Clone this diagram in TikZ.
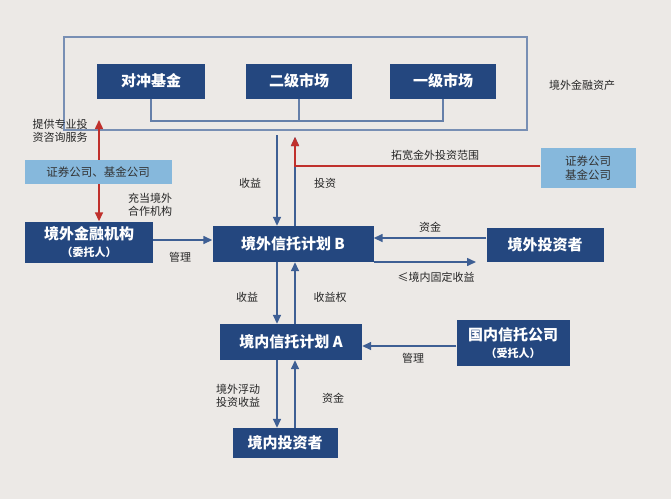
\documentclass[tikz,border=0pt]{standalone}
\usepackage{fontspec}
\newfontfamily\cjk{Noto Sans CJK SC}
\usetikzlibrary{arrows.meta}
\definecolor{bg}{HTML}{ECE9E6}
\definecolor{dk}{HTML}{24477F}
\definecolor{lt}{HTML}{86B8DC}
\definecolor{ln}{HTML}{3E5F94}
\definecolor{rd}{HTML}{C0302C}
\begin{document}
\begin{tikzpicture}[x=1pt,y=-1pt,font=\cjk,
 dbox/.style={fill=dk,text=white,font=\cjk\bfseries\fontsize{15}{17}\selectfont,align=center,inner sep=0pt},
 lbox/.style={fill=lt,text=black!80,font=\cjk\fontsize{11.5}{13.5}\selectfont,align=center,inner sep=0pt},
 lab/.style={font=\cjk\fontsize{11}{13}\selectfont,align=center,text=black!85},
 arr/.style={ln,line width=1.5pt,-{Triangle[length=9pt,width=8pt]}},
 rarr/.style={rd,line width=1.5pt,-{Triangle[length=9pt,width=8pt]}}]
\fill[bg] (0,0) rectangle (671,499);
\useasboundingbox (0,0) rectangle (671,499);
\draw[ln!70,line width=1.2pt] (64,37) rectangle (527,130);
\node[dbox,minimum width=108pt,minimum height=35pt] (hf) at (151,81) {对冲基金};
\node[dbox,minimum width=106pt,minimum height=35pt] (m2) at (299,81) {二级市场};
\node[dbox,minimum width=106pt,minimum height=35pt] (m1) at (443,81) {一级市场};
\draw[ln!80,line width=1.2pt] (hf.south) |- (299,121) -| (m1.south);
\draw[ln!80,line width=1.2pt] (m2.south) -- (299,121);
\node[lab] (ja) at (582,85) {境外金融资产};
\node[lbox,minimum width=147pt,minimum height=24pt] (zq) at (98,172) {证券公司、基金公司};
\coordinate (up1) at (99,120);
\draw[rarr] (zq.north -| up1) -- (up1);
\node[lab,align=left] (tg) at (60,131) {提供专业投\\资咨询服务};
\node[dbox,minimum width=128pt,minimum height=41pt] (jw) at (89,242) {境外金融机构\\{\fontsize{11}{13}\selectfont（委托人）}};
\draw[rarr] (zq.south -| up1) -- (jw.north -| up1);
\node[lab] (cd) at (150,205) {充当境外\\合作机构};
\node[dbox,minimum width=161pt,minimum height=36pt] (B) at (293,244) {境外信托计划 B};
\draw[arr] (jw.east |- 0,240) -- (B.west |- 0,240);
\node[lab] (gl1) at (180,257) {管理};
\coordinate (t1) at (277,135);
\coordinate (t2) at (295,137);
\draw[arr] (t1) -- (B.north -| t1);
\draw[arr] (B.north -| t2) -- (t2);
\node[lab] (sy1) at (250,183) {收益};
\node[lab] (tz) at (325,183) {投资};
\node[lbox,minimum width=95pt,minimum height=40pt] (zq2) at (588,168) {证券公司\\基金公司};
\draw[rarr] (zq2.west |- 0,166) -| (t2);
\node[lab] (tk) at (435,155) {拓宽金外投资范围};
\node[dbox,minimum width=117pt,minimum height=34pt] (inv) at (545,245) {境外投资者};
\draw[arr] (inv.west |- 0,238) -- (B.east |- 0,238);
\draw[arr] (B.east |- 0,262) -- (476,262);
\node[lab] (zj1) at (430,227) {资金};
\node[lab] (gd) at (436,277) {≤境内固定收益};
\node[dbox,minimum width=142pt,minimum height=36pt] (A) at (291,342) {境内信托计划 A};
\draw[arr] (B.south -| t1) -- (A.north -| t1);
\draw[arr] (A.north -| t2) -- (B.south -| t2);
\node[lab] (sy2) at (247,297) {收益};
\node[lab] (syq) at (330,297) {收益权};
\node[dbox,minimum width=113pt,minimum height=46pt] (gn) at (513,343) {国内信托公司\\{\fontsize{11}{13}\selectfont（受托人）}};
\draw[arr] (gn.west |- 0,346) -- (A.east |- 0,346);
\node[lab] (gl2) at (413,358) {管理};
\node[dbox,minimum width=105pt,minimum height=30pt] (dn) at (285,443) {境内投资者};
\draw[arr] (A.south -| t1) -- (dn.north -| t1);
\draw[arr] (dn.north -| t2) -- (A.south -| t2);
\node[lab] (fd) at (238,396) {境外浮动\\投资收益};
\node[lab] (zj2) at (333,398) {资金};
\end{tikzpicture}
\end{document}
